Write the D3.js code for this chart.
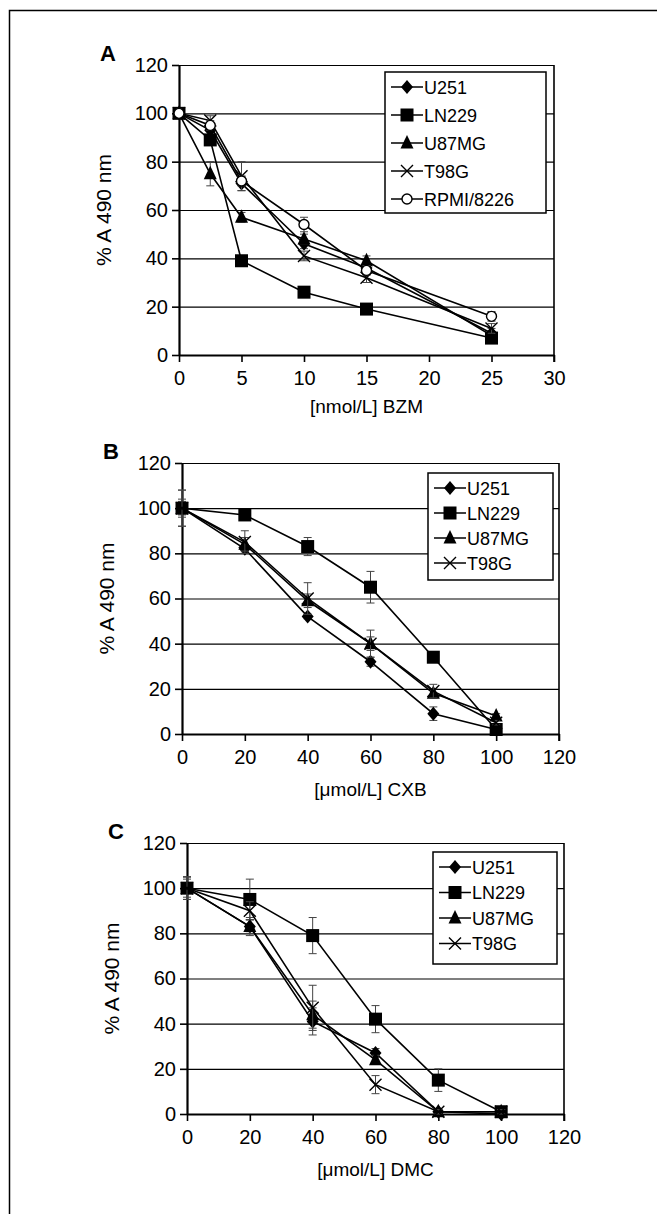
<!DOCTYPE html>
<html>
<head>
<meta charset="utf-8">
<script src="https://cdn.jsdelivr.net/npm/d3@7"></script>
<style>
  body { margin: 0; background: #fff; }
  svg { display: block; font-family: "Liberation Sans", Arial, Helvetica, sans-serif; }
</style>
</head>
<body>
<svg id="fig" width="657" height="1214"></svg>
<script>
// cell lines
var lines4 = ["U251", "LN229", "U87MG", "T98G"];
var lines5 = ["U251", "LN229", "U87MG", "T98G", "RPMI/8226"];

// Panel A - bortezomib, nmol/L
var bzmDose = [0, 2.5, 5, 10, 15, 25];
var bzmU251 = [100, 93, 71, 46, 36, 9];
var bzmLN229 = [100, 89, 39, 26, 19, 7];
var bzmU87MG = [100, 75, 57, 48, 39, 8];
var bzmT98G = [100, 97, 74, 41, 32, 11];
var bzmRPMI = [100, 95, 72, 54, 35, 16];
var bzmErrU251 = [1, 2, 3, 2, 2, 2];
var bzmErrLN229 = [1, 2, 1, 1, 1, 1];
var bzmErrU87MG = [1, 5, 2, 2, 2, 1];
var bzmErrT98G = [1, 2, 6, 2, 2, 2];
var bzmErrRPMI = [1, 2, 2, 3, 2, 2];

// Panel B - celecoxib, umol/L
var cxbDose = [0, 20, 40, 60, 80, 100];
var cxbU251 = [100, 82, 52, 32, 9, 2];
var cxbLN229 = [100, 97, 83, 65, 34, 2];
var cxbU87MG = [100, 84, 59, 40, 18, 8];
var cxbT98G = [100, 85, 60, 40, 19, 5];
var cxbErrU251 = [3, 2, 1, 2, 3, 1];
var cxbErrLN229 = [4, 1, 4, 7, 1, 1];
var cxbErrU87MG = [8, 3, 3, 6, 2, 1];
var cxbErrT98G = [8, 5, 7, 3, 3, 1];

// Panel C - dimethyl-celecoxib, umol/L
var dmcDose = [0, 20, 40, 60, 80, 100];
var dmcU251 = [100, 83, 41, 27, 1, 0];
var dmcLN229 = [100, 95, 79, 42, 15, 1];
var dmcU87MG = [100, 83, 44, 24, 1, 1];
var dmcT98G = [100, 90, 47, 13, 1, 1];
var dmcErrU251 = [5, 4, 6, 2, 1, 0];
var dmcErrLN229 = [5, 9, 8, 6, 5, 1];
var dmcErrU87MG = [4, 3, 6, 2, 1, 1];
var dmcErrT98G = [5, 4, 10, 4, 1, 1];

var yTicks = [0, 20, 40, 60, 80, 100, 120];
var bzmTicks = [0, 5, 10, 15, 20, 25, 30];
var mumTicks = [0, 20, 40, 60, 80, 100, 120];

var yTitle = "% A  490 nm";
var markerOf = {"U251": "diamond", "LN229": "square", "U87MG": "triangle", "T98G": "cross", "RPMI/8226": "circle"};

var panels = [
  {letter: "A", names: lines5, dose: bzmDose, xMax: 30, xTicks: bzmTicks, xTitle: "[nmol/L] BZM",
   values: [bzmU251, bzmLN229, bzmU87MG, bzmT98G, bzmRPMI],
   errs: [bzmErrU251, bzmErrLN229, bzmErrU87MG, bzmErrT98G, bzmErrRPMI],
   box: {l: 179, r: 554, t: 65, b: 355}, titleGap: 58,
   legend: {x: 385, y: 72, w: 161, h: 141, row: 28}},
  {letter: "B", names: lines4, dose: cxbDose, xMax: 120, xTicks: mumTicks, xTitle: "[\u03BCmol/L] CXB",
   values: [cxbU251, cxbLN229, cxbU87MG, cxbT98G],
   errs: [cxbErrU251, cxbErrLN229, cxbErrU87MG, cxbErrT98G],
   box: {l: 182, r: 559, t: 463, b: 734}, titleGap: 62,
   legend: {x: 428, y: 473, w: 125, h: 107, row: 25}},
  {letter: "C", names: lines4, dose: dmcDose, xMax: 120, xTicks: mumTicks, xTitle: "[\u03BCmol/L] DMC",
   values: [dmcU251, dmcLN229, dmcU87MG, dmcT98G],
   errs: [dmcErrU251, dmcErrLN229, dmcErrU87MG, dmcErrT98G],
   box: {l: 187, r: 564, t: 843, b: 1114}, titleGap: 62,
   legend: {x: 433, y: 852, w: 124, h: 112, row: 25.5}}
];

var svg = d3.select("#fig");

// figure frame (left and top only)
svg.append("path")
  .attr("d", "M9.5,1214 V10.5 H657")
  .attr("fill", "none").attr("stroke", "#000").attr("stroke-width", 1.5);

function drawMarker(g, kind, cx, cy) {
  if (kind === "diamond") {
    g.append("path").attr("d", "M" + cx + "," + (cy - 7) + "L" + (cx + 6) + "," + cy + "L" + cx + "," + (cy + 7) + "L" + (cx - 6) + "," + cy + "Z")
      .attr("fill", "#000");
  } else if (kind === "square") {
    g.append("rect").attr("x", cx - 6.5).attr("y", cy - 6.5).attr("width", 13).attr("height", 13).attr("fill", "#000");
  } else if (kind === "triangle") {
    g.append("path").attr("d", "M" + cx + "," + (cy - 8) + "L" + (cx + 6.5) + "," + (cy + 5.5) + "L" + (cx - 6.5) + "," + (cy + 5.5) + "Z")
      .attr("fill", "#000");
  } else if (kind === "cross") {
    g.append("path").attr("d", "M" + (cx - 6) + "," + (cy - 6) + "L" + (cx + 6) + "," + (cy + 6) + "M" + (cx + 6) + "," + (cy - 6) + "L" + (cx - 6) + "," + (cy + 6))
      .attr("stroke", "#000").attr("stroke-width", 1.4);
  } else {
    g.append("circle").attr("cx", cx).attr("cy", cy).attr("r", 5)
      .attr("fill", "#fff").attr("stroke", "#000").attr("stroke-width", 1.4);
  }
}

panels.forEach(function (p) {
  var x = d3.scaleLinear().domain([0, p.xMax]).range([p.box.l, p.box.r]);
  var y = d3.scaleLinear().domain([0, 120]).range([p.box.b, p.box.t]);
  var g = svg.append("g");

  // horizontal gridlines
  g.append("g")
    .attr("transform", "translate(" + p.box.l + ",0)")
    .call(d3.axisLeft(y).tickValues(yTicks.slice(1)).tickSize(-(p.box.r - p.box.l)).tickFormat(""))
    .call(function (a) { a.select(".domain").remove(); })
    .selectAll("line").attr("stroke", "#000").attr("stroke-width", 1.2);

  // right border
  g.append("line").attr("x1", p.box.r).attr("x2", p.box.r).attr("y1", p.box.t).attr("y2", p.box.b + 7)
    .attr("stroke", "#000").attr("stroke-width", 1.6);

  // y axis
  var ya = g.append("g")
    .attr("transform", "translate(" + p.box.l + ",0)")
    .call(d3.axisLeft(y).tickValues(yTicks).tickSizeInner(7).tickSizeOuter(0).tickPadding(4));
  ya.select(".domain").attr("stroke-width", 2.2);
  ya.selectAll("text").attr("font-size", 20).attr("fill", "#000").attr("font-family", null);
  ya.selectAll("line").attr("stroke-width", 1.6);

  // x axis
  var xa = g.append("g")
    .attr("transform", "translate(0," + p.box.b + ")")
    .call(d3.axisBottom(x).tickValues(p.xTicks).tickSizeInner(7).tickSizeOuter(0).tickPadding(9));
  xa.select(".domain").attr("stroke-width", 2.2);
  xa.selectAll("text").attr("font-size", 20).attr("fill", "#000").attr("font-family", null);
  xa.selectAll("line").attr("stroke-width", 1.6);

  // titles
  g.append("text").attr("x", (p.box.l + p.box.r) / 2).attr("y", p.box.b + p.titleGap)
    .attr("text-anchor", "middle").attr("font-size", 19).text(p.xTitle);
  g.append("text")
    .attr("transform", "translate(" + (p.box.l - 68) + "," + ((p.box.t + p.box.b) / 2) + ") rotate(-90)")
    .attr("text-anchor", "middle").attr("font-size", 21).text(yTitle);
  g.append("text").attr("x", p.box.l - 79).attr("y", p.box.t - 4)
    .attr("font-size", 22).attr("font-weight", "bold").text(p.letter);

  // series
  var line = d3.line().x(function (d) { return x(d[0]); }).y(function (d) { return y(d[1]); });
  p.names.forEach(function (name, i) {
    var pts = p.dose.map(function (d, k) { return [d, p.values[i][k], p.errs[i][k]]; });
    var sg = g.append("g");
    // error bars
    pts.forEach(function (d) {
      if (d[2] <= 0) return;
      var cx = x(d[0]), y1 = y(d[1] + d[2]), y2 = y(d[1] - d[2]);
      sg.append("path")
        .attr("d", "M" + cx + "," + y1 + "V" + y2 + "M" + (cx - 4) + "," + y1 + "H" + (cx + 4) + "M" + (cx - 4) + "," + y2 + "H" + (cx + 4))
        .attr("stroke", "#444").attr("stroke-width", 1).attr("fill", "none");
    });
    sg.append("path").datum(pts).attr("d", line)
      .attr("fill", "none").attr("stroke", "#000").attr("stroke-width", 1.6);
    pts.forEach(function (d) { drawMarker(sg, markerOf[name], x(d[0]), y(d[1])); });
  });

  // legend
  var L = p.legend;
  var lg = g.append("g");
  lg.append("rect").attr("x", L.x).attr("y", L.y).attr("width", L.w).attr("height", L.h)
    .attr("fill", "#fff").attr("stroke", "#000").attr("stroke-width", 1.5);
  p.names.forEach(function (name, i) {
    var cy = L.y + 15 + i * L.row;
    lg.append("line").attr("x1", L.x + 6).attr("x2", L.x + 38).attr("y1", cy).attr("y2", cy)
      .attr("stroke", "#000").attr("stroke-width", 1.5);
    drawMarker(lg, markerOf[name], L.x + 22, cy);
    lg.append("text").attr("x", L.x + 39).attr("y", cy + 6.5).attr("font-size", 18).text(name);
  });
});
</script>
</body>
</html>
